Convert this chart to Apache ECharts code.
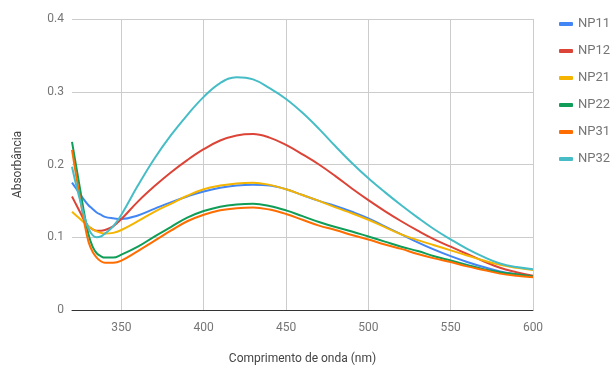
<!DOCTYPE html>
<html>
<head>
<meta charset="utf-8">
<script src="https://cdn.jsdelivr.net/npm/echarts@6/dist/echarts.min.js"></script>
<style>
html,body{margin:0;padding:0;background:#fff;}
#chart{width:613px;height:370px;}
</style>
</head>
<body>
<div id="chart"></div>
<script>
const wavelengths = [320,322.5,325,327.5,330,332.5,335,337.5,340,345,350,360,370,380,390,400,410,420,430,440,450,460,470,480,490,500,510,520,530,540,550,560,570,580,590,600];
const NP11 = [0.175,0.167,0.159,0.151,0.144,0.139,0.134,0.131,0.128,0.126,0.125,0.130,0.139,0.148,0.156,0.163,0.168,0.171,0.172,0.171,0.166,0.158,0.150,0.143,0.135,0.126,0.115,0.104,0.093,0.083,0.074,0.066,0.059,0.053,0.049,0.046];
const NP12 = [0.156,0.145,0.134,0.123,0.115,0.111,0.109,0.109,0.110,0.115,0.125,0.149,0.170,0.189,0.206,0.221,0.233,0.240,0.242,0.237,0.227,0.214,0.200,0.184,0.167,0.151,0.136,0.122,0.109,0.097,0.087,0.077,0.067,0.058,0.052,0.047];
const NP21 = [0.135,0.130,0.125,0.120,0.115,0.111,0.108,0.106,0.105,0.106,0.110,0.122,0.135,0.146,0.157,0.166,0.171,0.174,0.175,0.172,0.166,0.158,0.150,0.141,0.133,0.124,0.114,0.104,0.096,0.089,0.082,0.075,0.068,0.062,0.058,0.055];
const NP22 = [0.231,0.198,0.165,0.132,0.104,0.087,0.078,0.074,0.072,0.072,0.076,0.087,0.101,0.114,0.127,0.136,0.142,0.145,0.146,0.143,0.137,0.129,0.121,0.114,0.108,0.101,0.094,0.087,0.081,0.074,0.068,0.062,0.056,0.052,0.049,0.046];
const NP31 = [0.220,0.185,0.152,0.120,0.094,0.080,0.072,0.067,0.065,0.065,0.068,0.081,0.095,0.109,0.122,0.131,0.137,0.140,0.141,0.138,0.132,0.124,0.116,0.110,0.103,0.097,0.090,0.084,0.077,0.071,0.066,0.060,0.055,0.050,0.047,0.045];
const NP32 = [0.197,0.172,0.150,0.128,0.112,0.103,0.100,0.101,0.105,0.115,0.131,0.171,0.208,0.240,0.268,0.293,0.312,0.320,0.317,0.305,0.290,0.271,0.249,0.225,0.202,0.181,0.162,0.144,0.127,0.111,0.097,0.084,0.073,0.064,0.059,0.056];
const seriesNames = ['NP11','NP12','NP21','NP22','NP31','NP32'];
const seriesValues = [NP11,NP12,NP21,NP22,NP31,NP32];
const colors = ['#4285f4','#db4437','#f4b400','#0f9d58','#ff6d00','#46bdc6'];
const xTicks = [350,400,450,500,550,600];

const chart = echarts.init(document.getElementById('chart'));
chart.setOption({
  animation:false,
  color: colors,
  textStyle:{fontFamily:'Roboto'},
  grid:{left:72,right:80,top:19,bottom:58,containLabel:false},
  legend:{
    orient:'vertical', left:554, top:11,
    icon:'roundRect', itemWidth:14, itemHeight:4, itemGap:11,
    textStyle:{color:'#757575',fontSize:13,lineHeight:16,fontFamily:'Roboto'},
    data: seriesNames
  },
  xAxis:{
    type:'value', min:320, max:600,
    name:'Comprimento de onda (nm)', nameLocation:'middle', nameGap:43,
    nameTextStyle:{color:'#444',fontSize:12,fontFamily:'Roboto'},
    axisLine:{show:true,lineStyle:{color:'#333',width:1}},
    axisTick:{show:false,customValues:xTicks},
    axisLabel:{color:'#757575',fontSize:12,margin:12,customValues:xTicks},
    splitLine:{show:true,lineStyle:{color:'#cccccc',width:1}}
  },
  yAxis:{
    type:'value', min:0, max:0.4, interval:0.1,
    name:'Absorbância', nameLocation:'middle', nameGap:48,
    nameTextStyle:{color:'#444',fontSize:12,fontFamily:'Roboto'},
    axisLine:{show:false}, axisTick:{show:false},
    axisLabel:{color:'#757575',fontSize:12,margin:8,formatter:v=> v===0?'0':v.toFixed(1)},
    splitLine:{show:true,lineStyle:{color:'#cccccc',width:1}}
  },
  series: seriesNames.map((n,i)=>({
    name:n, type:'line', showSymbol:false, smooth:0.4,
    lineStyle:{width:2}, z: 2,
    data: wavelengths.map((w,j)=>[w, seriesValues[i][j]])
  }))
});
</script>
</body>
</html>
